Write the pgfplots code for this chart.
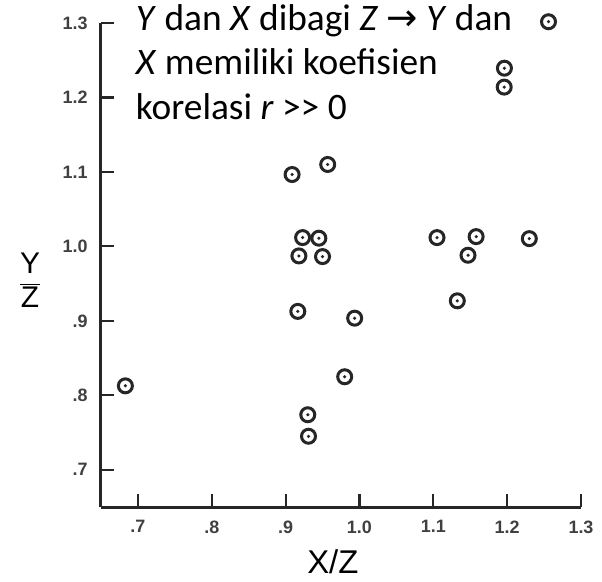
\documentclass[border=0pt]{standalone}
\usepackage{fontspec}
\setmainfont{Carlito}
\newfontfamily\tickfont{Liberation Sans}
\newfontfamily\arrowfont{DejaVu Sans}
\usepackage{pgfplots}
\pgfplotsset{compat=1.18}
\pgfdeclareplotmark{odot}{%
  \pgfpathcircle{\pgfpointorigin}{\pgfplotmarksize}\pgfusepathqstroke
  \pgfpathcircle{\pgfpointorigin}{0.25\pgfplotmarksize}\pgfusepathqfill}
\pgfplotstableread{
x y
0.683 0.8127
0.9165 0.9127
0.9935 0.9036
0.980 0.8249
0.930 0.7739
0.931 0.745
0.9088 1.0965
0.957 1.110
0.923 1.0118
0.945 1.011
0.918 0.9872
0.950 0.9863
1.256 1.3017
1.1963 1.2393
1.196 1.2139
1.105 1.0118
1.158 1.0131
1.147 0.9881
1.230 1.0104
1.1325 0.9269
}\datatable
\begin{document}
\begin{tikzpicture}
\begin{axis}[name=ax, scale only axis, width=480bp, height=484bp,
  xmin=0.65, xmax=1.3, ymin=0.65, ymax=1.3,
  axis lines=left, axis line style={-, line width=3bp, black!85},
  xtick={0.7,0.8,0.9,1.0,1.1,1.2,1.3},
  xticklabels={.7,.8,.9,1.0,1.1,1.2,1.3},
  ytick={0.7,0.8,0.9,1.0,1.1,1.2,1.3},
  yticklabels={.7,.8,.9,1.0,1.1,1.2,1.3},
  tick align=inside, major tick length=13bp,
  tick style={line width=2.2bp, black!85},
  tick label style={font=\tickfont\bfseries\fontsize{18}{18}\selectfont, text=black!75},
  yticklabel style={xshift=-10bp},
  xticklabel style={yshift=-10bp},
  xlabel={X/Z},
  xlabel style={font=\tickfont\fontsize{33}{33}\selectfont, at={(rel axis cs:0.483,0)}, anchor=center, yshift=-55bp},
  ylabel={$\displaystyle\frac{\hbox{Y}}{\hbox{Z}}$},
  ylabel style={font=\tickfont\fontsize{30}{30}\selectfont, rotate=-90, at={(rel axis cs:0,0.469)}, anchor=center, xshift=-71bp},
  clip=false,
]
\addplot[only marks, mark=odot, mark size=7bp, line width=3bp, black!85] table[x=x,y=y] {\datatable};
\node[anchor=base west, inner sep=0pt, font=\fontsize{37.5}{37.5}\selectfont] at (axis cs:0.697,1.2893) {\textit{Y} dan \textit{X} dibagi \textit{Z} {\arrowfont →} \textit{Y} dan};
\node[anchor=base west, inner sep=0pt, font=\fontsize{37.5}{37.5}\selectfont] at (axis cs:0.697,1.2304) {\textit{X} memiliki koefisien};
\node[anchor=base west, inner sep=0pt, font=\fontsize{37.5}{37.5}\selectfont] at (axis cs:0.697,1.170) {korelasi \textit{r} {>}{>} 0};
\end{axis}
\path (ax.south west) ++(-101bp,-75bp) rectangle ++(602bp,582bp);
\end{tikzpicture}
\end{document}
